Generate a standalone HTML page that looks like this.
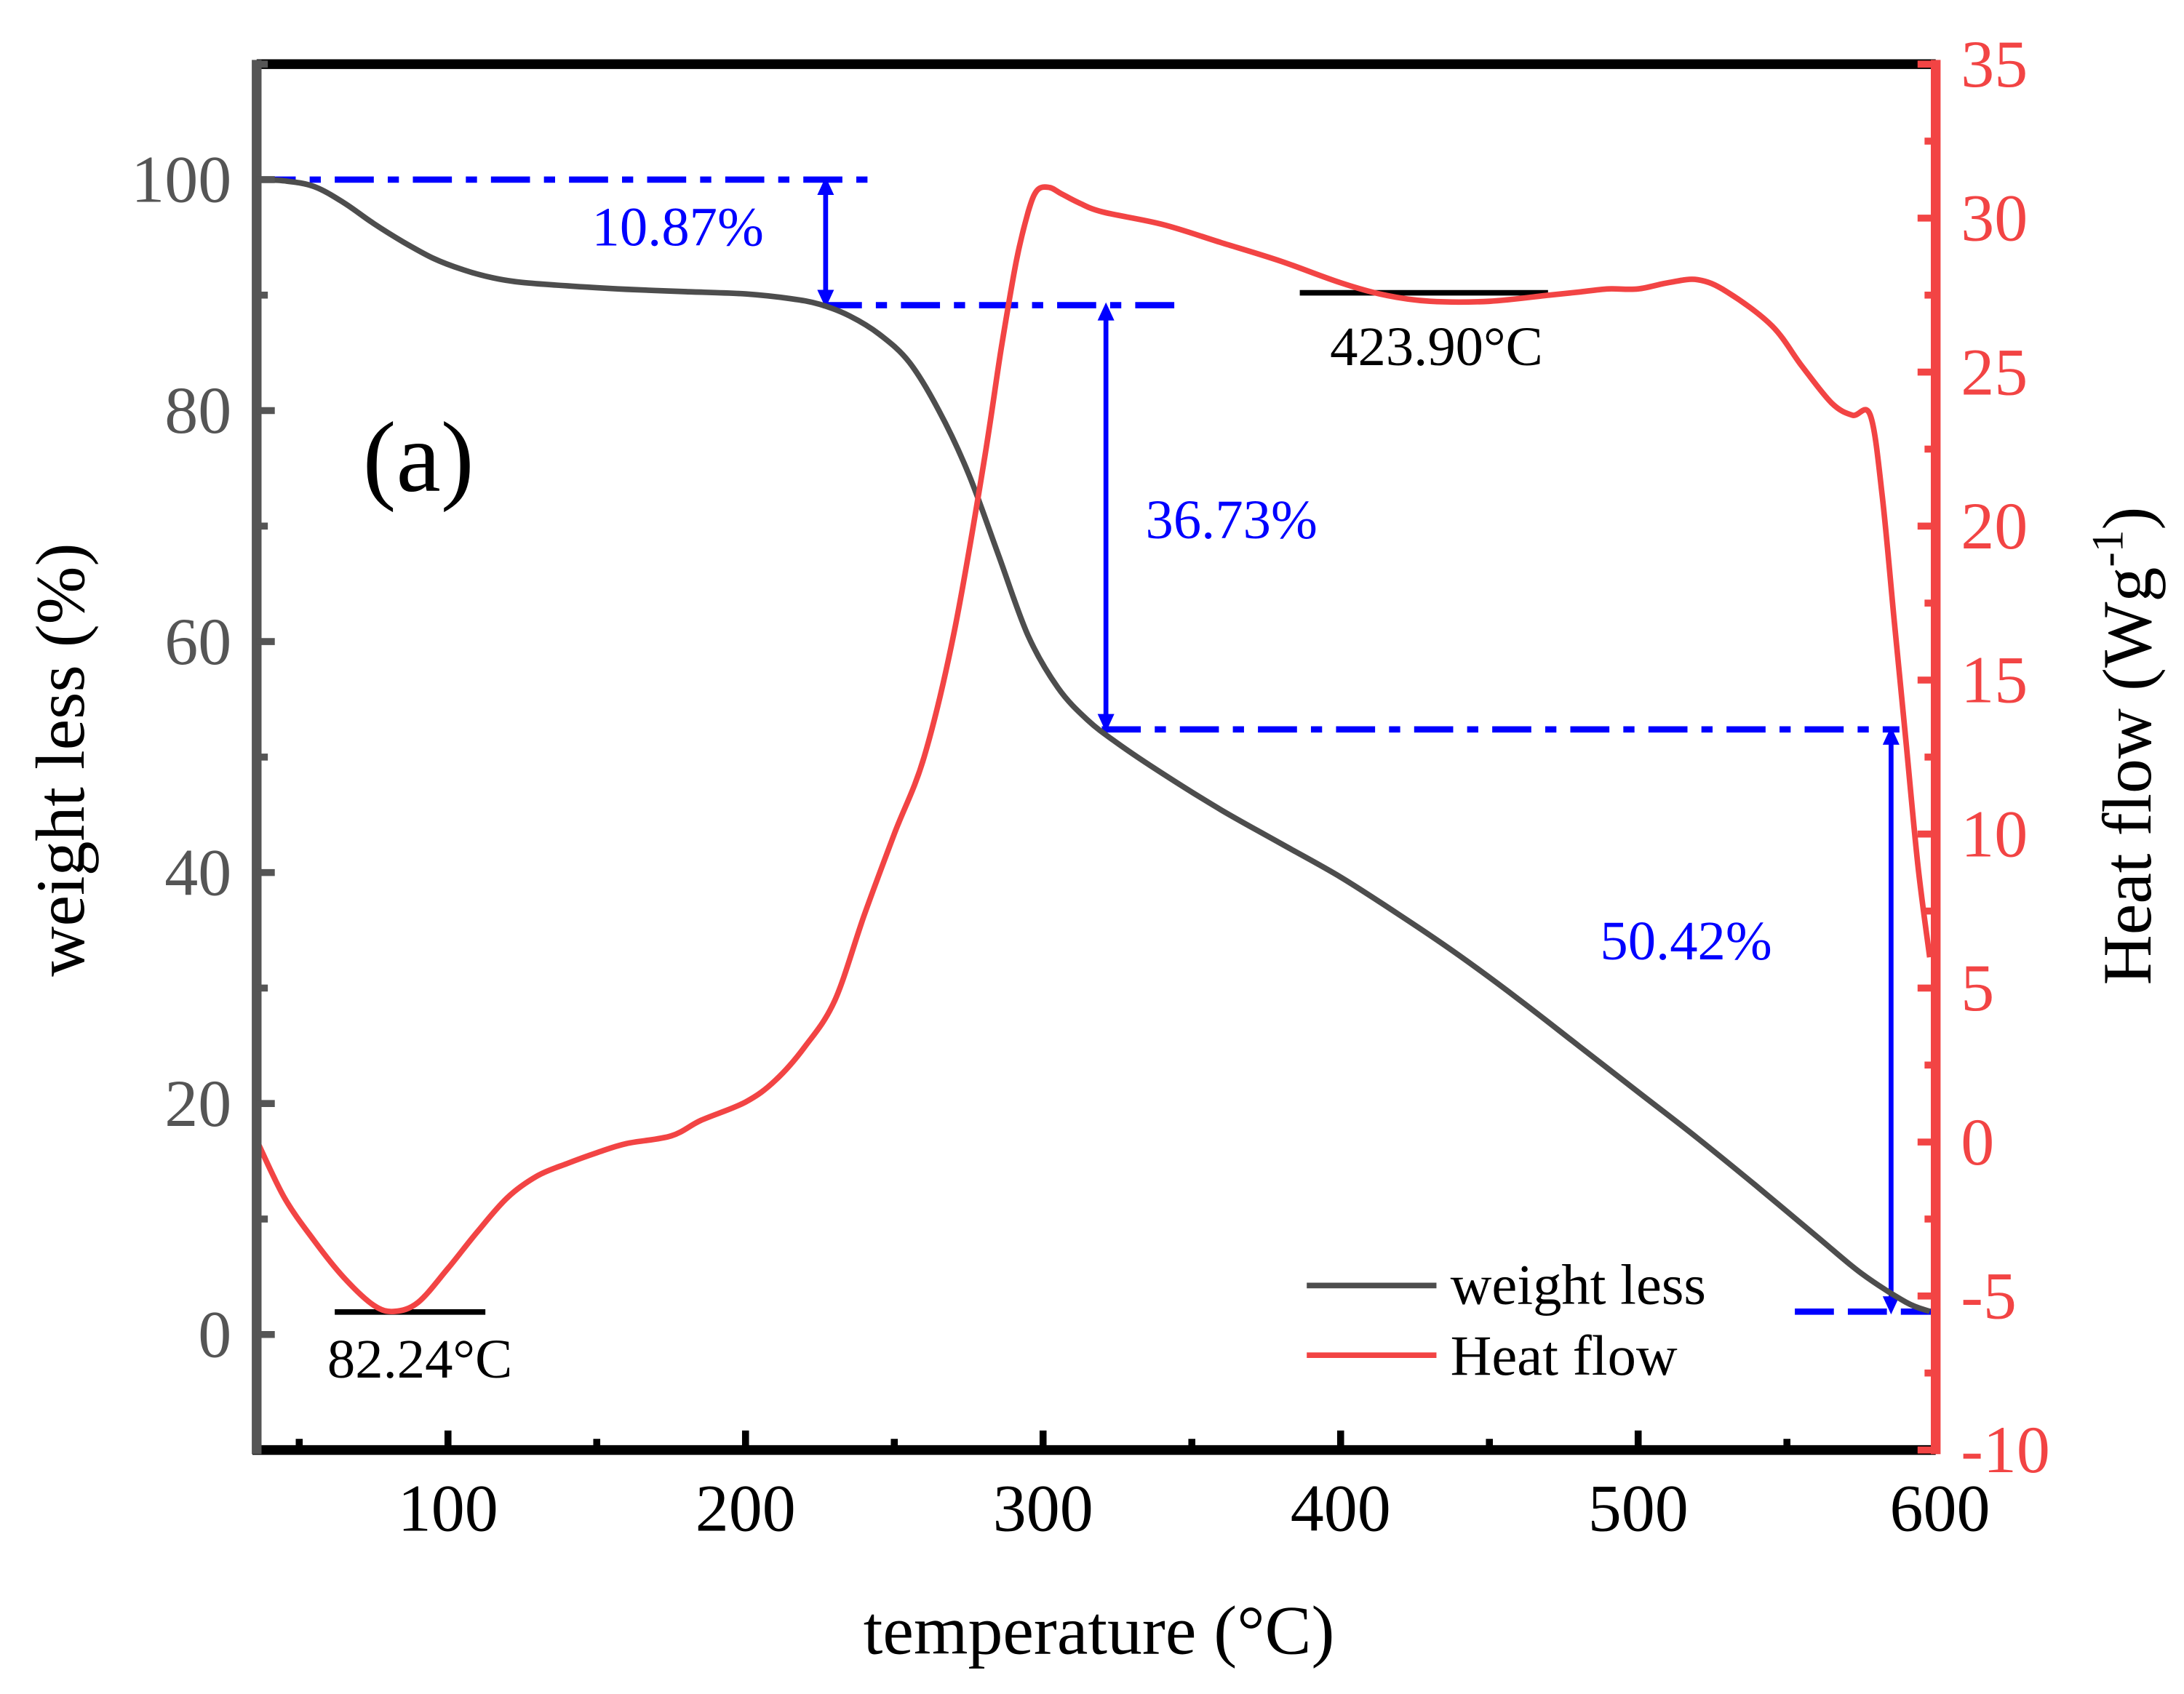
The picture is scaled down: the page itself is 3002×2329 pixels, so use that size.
<!DOCTYPE html>
<html><head><meta charset="utf-8"><style>
html,body{margin:0;padding:0;background:#fff;}
svg{display:block;}
text{font-family:"Liberation Serif",serif;}
</style></head><body>
<svg id="chart" width="3002" height="2329" viewBox="0 0 1566 1215" xmlns="http://www.w3.org/2000/svg">
<g id="grid"></g>
<g id="annots"></g>
<g id="series"></g>
<g id="axes"></g>
</svg>
<script>
// ---- data ----
const weightT = [36,45,55,65,75,85,95,105,115,125,140,160,180,200,215,225,235,245,255,265,275,285,295,305,315,325,340,360,380,400,420,440,460,480,500,520,540,560,575,590,598];
const weightV = [100,99.9,99.4,98,96.2,94.6,93.2,92.2,91.5,91.1,90.8,90.5,90.3,90.1,89.7,89.2,88.2,86.6,84.2,80,74.5,67.5,60.5,56,53.2,51.2,48.6,45.4,42.5,39.6,36.3,32.8,29,25,21,17,12.8,8.5,5.3,2.8,2];
const heatT = [36,45,55,65,75,82,90,100,110,120,130,140,150,160,175,185,200,210,220,230,240,250,260,270,280,286,291,295,298,302,306,312,320,340,360,380,400,415,430,450,470,480,490,500,510,520,530,545,555,565,572,578,582,586,590,594,598];
const heatV = [0,-1.8,-3.2,-4.4,-5.3,-5.5,-5.2,-4.1,-2.9,-1.8,-1.1,-0.7,-0.35,-0.05,0.2,0.7,1.3,2.0,3.1,4.6,7.4,10,12.5,16.5,22,25.8,28.6,30.2,30.9,31.0,30.8,30.5,30.2,29.8,29.2,28.6,27.9,27.5,27.3,27.3,27.5,27.6,27.7,27.7,27.9,28.0,27.6,26.5,25.2,24.0,23.6,23.6,21,17,13,9,6];
const xTicks = [100,200,300,400,500,600];
const yLeftTicks = [0,20,40,60,80,100];
const yRightTicks = [-10,-5,0,5,10,15,20,25,30,35];

// ---- axes ----
const L=184,R=1388,T=46,B=1040;
const XMIN=35.7,XMAX=600,YLMIN=-10,YLMAX=110,YRMIN=-10,YRMAX=35;
const xs=v=>L+(v-XMIN)/(XMAX-XMIN)*(R-L);
const yl=v=>B-(v-YLMIN)/(YLMAX-YLMIN)*(B-T);
const yr=v=>B-(v-YRMIN)/(YRMAX-YRMIN)*(B-T);
const NS='http://www.w3.org/2000/svg';
function mk(tag,attrs,parent,txt){const e=document.createElementNS(NS,tag);for(const k in attrs)e.setAttribute(k,attrs[k]);if(txt!==undefined)e.textContent=txt;document.getElementById(parent).appendChild(e);return e;}
function smooth(pts){let d='M'+pts[0][0].toFixed(1)+','+pts[0][1].toFixed(1);for(let i=0;i<pts.length-1;i++){const p0=pts[Math.max(0,i-1)],p1=pts[i],p2=pts[i+1],p3=pts[Math.min(pts.length-1,i+2)];const c1x=p1[0]+(p2[0]-p0[0])/6,c1y=p1[1]+(p2[1]-p0[1])/6,c2x=p2[0]-(p3[0]-p1[0])/6,c2y=p2[1]-(p3[1]-p1[1])/6;d+=`C${c1x.toFixed(1)},${c1y.toFixed(1)} ${c2x.toFixed(1)},${c2y.toFixed(1)} ${p2[0].toFixed(1)},${p2[1].toFixed(1)}`;}return d;}

// series
let w=mk('path',{d:smooth(weightT.map((t,i)=>[xs(t),yl(weightV[i])])),fill:'none',stroke:'#4d4d4d','stroke-width':4,'stroke-linejoin':'round'},'series');


let h=mk('path',{d:smooth(heatT.map((t,i)=>[xs(t),yr(heatV[i])])),fill:'none',stroke:'#f24444','stroke-width':4,'stroke-linejoin':'round'},'series');



// axes frame
let a;
a=mk('line',{x1:L,y1:T,x2:R,y2:T,stroke:'#000','stroke-width':7},'axes');


a=mk('line',{x1:L-3,y1:B,x2:R,y2:B,stroke:'#000','stroke-width':7},'axes');


a=mk('line',{x1:L,y1:T-3,x2:L,y2:B+3,stroke:'#555','stroke-width':7},'axes');


a=mk('line',{x1:R,y1:T-3,x2:R,y2:B+3,stroke:'#f24444','stroke-width':7},'axes');



// x ticks
xTicks.forEach(v=>{
 let x=xs(v);
 if(v<600){let t=mk('line',{x1:x,y1:B,x2:x,y2:B-14,stroke:'#000','stroke-width':5},'axes');
 
 }
 let m=xs(v-50);
 let t2=mk('line',{x1:m,y1:B,x2:m,y2:B-8,stroke:'#000','stroke-width':5},'axes');
 
 
 let lb=mk('text',{x:x+(v==600?3:0),y:1098,'font-size':48,'text-anchor':'middle',fill:'#000'},'axes',String(v));
 
 
});
// left ticks
yLeftTicks.forEach(v=>{
 let y=yl(v);
 let t=mk('line',{x1:L,y1:y,x2:L+13,y2:y,stroke:'#555','stroke-width':5},'axes');
 
 
 let m=yl(v+10);
 let t2=mk('line',{x1:L,y1:m,x2:L+8,y2:m,stroke:'#555','stroke-width':5},'axes');
 
 
 let lb=mk('text',{x:166,y:y+16,'font-size':48,'text-anchor':'end',fill:'#555'},'axes',String(v));
 
 
});
// right ticks
yRightTicks.forEach(v=>{
 let y=yr(v);
 let t=mk('line',{x1:R,y1:y,x2:R-13,y2:y,stroke:'#f24444','stroke-width':5},'axes');
 
 
 if(v<35){let m=yr(v+2.5);
 let t2=mk('line',{x1:R,y1:m,x2:R-8,y2:m,stroke:'#f24444','stroke-width':5},'axes');
 
 }
 let lb=mk('text',{x:1406,y:y+16,'font-size':48,'text-anchor':'start',fill:'#f24444'},'axes',String(v));
 
 
});

// annotations
const DASH='28 10 8 10';
function hline(x1,x2,y,name,dash){let e=mk('line',{x1:x1,y1:y,x2:x2,y2:y,stroke:'#0000ff','stroke-width':4.5,'stroke-dasharray':dash||DASH},'annots');}
hline(184,628,yl(100),'ref-line-100');
hline(590,845,yl(89.13),'ref-line-89');
hline(790,1362,yl(52.4),'ref-line-52');
hline(1287,1385,yl(1.98),'ref-line-2','28 10');
function arrow(x,y1,y2,name){
 let g=mk('g',{},'annots');
 let ln=document.createElementNS(NS,'line');ln.setAttribute('x1',x);ln.setAttribute('x2',x);ln.setAttribute('y1',y1+6);ln.setAttribute('y2',y2-6);ln.setAttribute('stroke','#0000ff');ln.setAttribute('stroke-width',3.5);g.appendChild(ln);
 let p=document.createElementNS(NS,'path');p.setAttribute('d',`M${x},${y1-2}l-6,13h12zM${x},${y2+2}l-6,-13h12z`);p.setAttribute('fill','#0000ff');g.appendChild(p);
}
arrow(592,yl(100),yl(89.13),'arrow-10-87');
arrow(793,yl(89.13),yl(52.4),'arrow-36-73');
arrow(1356,yl(52.4),yl(1.98),'arrow-50-42');
function txt(x,y,s,size,fill,name,anchor){let e=mk('text',{x:x,y:y,'font-size':size,fill:fill,'text-anchor':anchor||'middle'},'annots',s);return e;}
txt(486,176,'10.87%',40,'#0000ff','label-10-87');
txt(883,386,'36.73%',40,'#0000ff','label-36-73');
txt(1209,688,'50.42%',40,'#0000ff','label-50-42');
let bl=mk('line',{x1:240,y1:941,x2:348,y2:941,stroke:'#000','stroke-width':4},'annots');


bl=mk('line',{x1:932,y1:210,x2:1110,y2:210,stroke:'#000','stroke-width':4},'annots');


txt(301,988,'82.24°C',40,'#000','label-82-24');
txt(1030,262,'423.90°C',40,'#000','label-423-90');
txt(300,352,'(a)',72,'#000','panel-label');
// legend
let lg=mk('line',{x1:937,y1:922,x2:1030,y2:922,stroke:'#4d4d4d','stroke-width':4},'annots');


lg=mk('line',{x1:937,y1:972,x2:1030,y2:972,stroke:'#f24444','stroke-width':4},'annots');


txt(1040,935,'weight less',41,'#000','legend-weight-label','start');
txt(1040,986,'Heat flow',41,'#000','legend-heat-label','start');
// axis titles
txt(788,1186,'temperature (°C)',50,'#000','x-axis-title');
let yt=txt(0,0,'weight less (%)',50,'#000','left-y-axis-title');
yt.setAttribute('transform','translate(60,545) rotate(-90)');
let rt=mk('text',{'font-size':50,fill:'#000','text-anchor':'middle',transform:'translate(1542,535) rotate(-90)'},'annots');


rt.innerHTML='Heat flow (Wg<tspan dy="-20" font-size="32">-1</tspan><tspan dy="20">)</tspan>';
</script>
</body></html>
